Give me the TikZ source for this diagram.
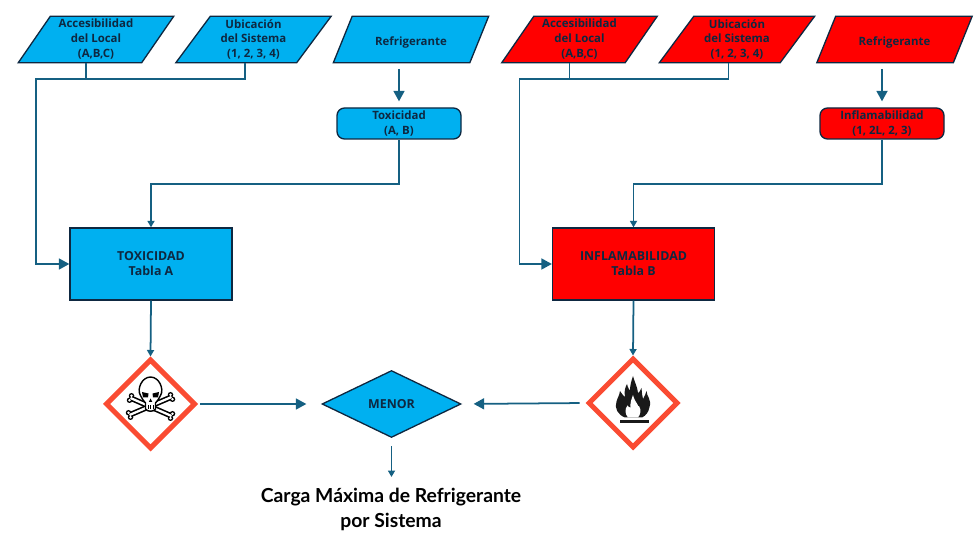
\documentclass[tikz,border=0pt]{standalone}
\usepackage{xcolor}
\usepackage{fontspec}
\setmainfont{Open Sans}
\newfontfamily\titlefont{Lato}
\usetikzlibrary{arrows.meta,shapes.geometric,shapes.misc}
\definecolor{cielo}{HTML}{00B0F0}
\definecolor{rojo}{HTML}{FF0000}
\definecolor{borde}{HTML}{0E2841}
\definecolor{enlace}{HTML}{156082}
\definecolor{peligro}{HTML}{FA4B32}
\tikzset{
  inputbox/.style={draw=borde, line width=0.75pt, shape=trapezium, trapezium left angle=57, trapezium right angle=123, trapezium stretches=true, minimum width=3.12cm, minimum height=0.93cm, inner sep=0pt, text=borde, align=center, font=\fontsize{6.5}{8.5}\selectfont\bfseries, execute at begin node=\rule{0pt}{8.5pt}},
  classbox/.style={draw=borde, line width=0.75pt, rounded corners=1.5mm, minimum width=2.48cm, minimum height=0.62cm, inner sep=0pt, text=borde, align=center, font=\fontsize{6.5}{8.5}\selectfont\bfseries, execute at begin node=\rule{0pt}{8.5pt}},
  tablebox/.style={draw=borde, line width=0.75pt, minimum width=3.24cm, minimum height=1.44cm, inner sep=0pt, text=borde, align=center, font=\fontsize{7.05}{8.5}\selectfont\bfseries},
  hazard/.style={draw=peligro, fill=white, line width=1mm, shape=diamond, aspect=1, minimum size=1.8cm, inner sep=0pt},
  link/.style={draw=enlace, line width=1pt, -{Triangle[length=1.3mm,width=1.4mm]}},
  bigtip/.style={draw=enlace, line width=1pt, -{Triangle[length=2.1mm,width=2.2mm]}},
  plainlink/.style={draw=enlace, line width=1pt}
}
\begin{document}
\begin{tikzpicture}
\useasboundingbox (0,0) rectangle (19.6,11.2);

\node[inputbox, fill=cielo] (acc1) at (1.92,10.41) {Accesibilidad\\del Local\\(A,B,C)};
\node[inputbox, fill=cielo] (ubi1) at (5.07,10.41) {Ubicación\\del Sistema\\(1, 2, 3, 4)};
\node[inputbox, fill=cielo] (ref1) at (8.22,10.41) {Refrigerante};
\node[classbox, fill=cielo] (tox) at (7.98,8.73) {Toxicidad\\(A, B)};
\node[tablebox, fill=cielo] (tab1) at (3.02,5.92) {TOXICIDAD\\Tabla A};

\node[inputbox, fill=rojo] (acc2) at (11.59,10.41) {Accesibilidad\\del Local\\(A,B,C)};
\node[inputbox, fill=rojo] (ubi2) at (14.74,10.41) {Ubicación\\del Sistema\\(1, 2, 3, 4)};
\node[inputbox, fill=rojo] (ref2) at (17.89,10.41) {Refrigerante};
\node[classbox, fill=rojo] (inf) at (17.64,8.73) {Inflamabilidad\\(1, 2L, 2, 3)};
\node[tablebox, fill=rojo] (tab2) at (12.67,5.92) {INFLAMABILIDAD\\Tabla B};

\node[hazard] (haz1) at (3.01,3.12) {};
\node[hazard] (haz2) at (12.66,3.14) {};
\node[draw=borde, fill=cielo, line width=0.75pt, shape=diamond, aspect=2.07, minimum width=2.78cm, minimum height=1.34cm, inner sep=0pt, text=borde, font=\fontsize{7.05}{8.5}\selectfont\bfseries] (menor) at (7.83,3.12) {MENOR};
\node[align=center, text=black, font=\titlefont\fontsize{11}{14.2}\selectfont\bfseries] (carga) at (7.82,1.01) {Carga Máxima de Refrigerante\\por Sistema};

\coordinate (bus1) at (0.72,9.62);
\coordinate (bus2) at (10.39,9.62);

\draw[plainlink] ([xshift=-0.2cm]acc1.south) |- (bus1);
\draw[bigtip] ([xshift=-0.17cm]ubi1.south) |- (bus1) |- (tab1.west);
\draw[bigtip, shorten <=0.11cm, shorten >=0.12cm] (ref1.south -| tox.north) -- (tox.north);
\draw[link] (tox.south) -- ++(0,-0.88) -| (tab1.north);
\draw[link] (tab1.south) -- (haz1.north);

\draw[plainlink] ([xshift=-0.2cm]acc2.south) |- (bus2);
\draw[bigtip] ([xshift=-0.17cm]ubi2.south) |- (bus2) |- (tab2.west);
\draw[bigtip, shorten <=0.11cm, shorten >=0.12cm] (ref2.south -| inf.north) -- (inf.north);
\draw[link] (inf.south) -- ++(0,-0.88) -| (tab2.north);
\draw[link] (tab2.south) -- (haz2.north);

\draw[bigtip, shorten <=0.04cm, shorten >=0.3cm] (haz1.east) -- (menor.west);
\draw[bigtip, shorten <=0.12cm, shorten >=0.24cm] (haz2.west) -- (menor.east);
\draw[link, shorten <=0.16cm, shorten >=0.1cm] (menor.south) -- (carga.north -| menor.south);

% calavera
\begin{scope}[shift={(haz1.center)}]
\foreach \col/\wid/\rad in {black/0.11/0.055, white/0.045/0.028} {
  \draw[\col, line width=\wid cm] (-0.4,0.12) -- (0.42,-0.24);
  \draw[\col, line width=\wid cm] (0.42,0.14) -- (-0.42,-0.22);
  \fill[\col] (-0.38,0.165) circle (\rad) (-0.42,0.075) circle (\rad) (0.44,-0.195) circle (\rad) (0.40,-0.285) circle (\rad);
  \fill[\col] (0.44,0.095) circle (\rad) (0.40,0.185) circle (\rad) (-0.40,-0.265) circle (\rad) (-0.44,-0.175) circle (\rad);
}
\draw[black, fill=white, line width=0.8pt] (-0.1,0.02) .. controls (-0.16,0.05) and (-0.15,0.12) .. (-0.2,0.17) .. controls (-0.28,0.3) and (-0.17,0.54) .. (0,0.54) .. controls (0.17,0.54) and (0.28,0.3) .. (0.2,0.17) .. controls (0.15,0.12) and (0.16,0.05) .. (0.1,0.02) -- (0.1,-0.1) .. controls (0.06,-0.16) and (-0.06,-0.16) .. (-0.1,-0.1) -- cycle;
\fill[black] (-0.17,0.24) -- (-0.04,0.21) -- (-0.05,0.13) -- (-0.15,0.13) -- cycle;
\fill[black] (0.17,0.24) -- (0.04,0.21) -- (0.05,0.13) -- (0.15,0.13) -- cycle;
\fill[black] (0,0.11) -- (0.035,0.04) -- (-0.035,0.04) -- cycle;
\draw[black, line width=0.5pt] (-0.05,-0.03) -- (-0.05,-0.1) (0,-0.03) -- (0,-0.11) (0.05,-0.03) -- (0.05,-0.1);
\end{scope}

% llama
\begin{scope}[shift={(haz2.center)}]
\fill[black!90] (-0.16,-0.29) .. controls (-0.3,-0.24) and (-0.38,-0.1) .. (-0.33,0.03) .. controls (-0.31,0.11) and (-0.27,0.15) .. (-0.26,0.24) .. controls (-0.22,0.18) and (-0.19,0.14) .. (-0.16,0.12) .. controls (-0.18,0.24) and (-0.16,0.3) .. (-0.12,0.38) .. controls (-0.1,0.3) and (-0.08,0.27) .. (-0.06,0.25) .. controls (-0.06,0.36) and (-0.03,0.45) .. (0,0.54) .. controls (0.03,0.42) and (0.09,0.32) .. (0.1,0.2) .. controls (0.13,0.22) and (0.15,0.25) .. (0.17,0.3) .. controls (0.18,0.2) and (0.18,0.14) .. (0.2,0.08) .. controls (0.23,0.12) and (0.25,0.18) .. (0.27,0.24) .. controls (0.27,0.14) and (0.38,0.06) .. (0.33,-0.08) .. controls (0.31,-0.19) and (0.26,-0.25) .. (0.18,-0.29) -- cycle;
\fill[white] (-0.1,-0.29) .. controls (-0.16,-0.22) and (-0.17,-0.12) .. (-0.11,-0.05) .. controls (-0.09,-0.08) and (-0.07,-0.09) .. (-0.05,-0.09) .. controls (-0.06,0) and (-0.03,0.08) .. (0,0.16) .. controls (0.02,0.08) and (0.05,0.03) .. (0.09,-0.03) .. controls (0.1,-0.06) and (0.11,-0.08) .. (0.12,-0.06) .. controls (0.17,-0.14) and (0.15,-0.23) .. (0.1,-0.29) -- cycle;
\fill[black!90] (-0.26,-0.34) rectangle (0.31,-0.4);
\end{scope}
\end{tikzpicture}
\end{document}
